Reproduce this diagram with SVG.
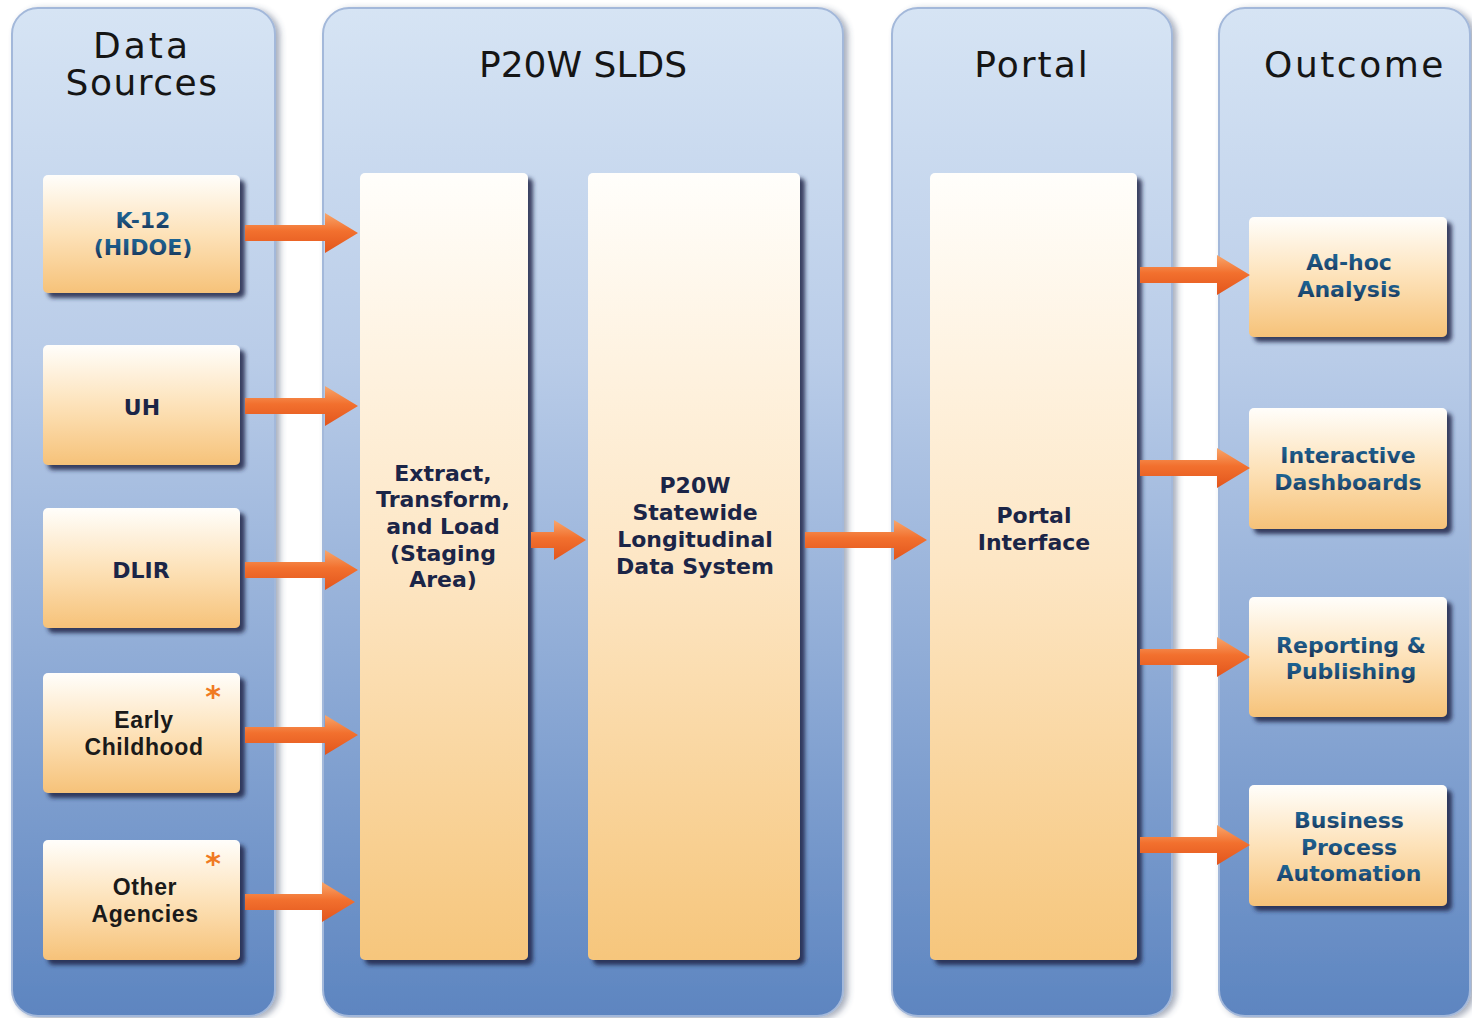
<svg xmlns="http://www.w3.org/2000/svg" width="1472" height="1018" viewBox="0 0 1472 1018">
<defs>
<linearGradient id="panelG" x1="0" y1="0" x2="0" y2="1">
<stop offset="0" stop-color="#d6e4f4"/>
<stop offset="0.35" stop-color="#b9cce8"/>
<stop offset="0.7" stop-color="#88a6d3"/>
<stop offset="1" stop-color="#5d85c0"/>
</linearGradient>
<linearGradient id="boxG" x1="0" y1="0" x2="0" y2="1">
<stop offset="0" stop-color="#fffefb"/>
<stop offset="0.5" stop-color="#fde2b9"/>
<stop offset="1" stop-color="#f6c279"/>
</linearGradient>
<linearGradient id="tallG" x1="0" y1="0" x2="0" y2="1">
<stop offset="0" stop-color="#fffefb"/>
<stop offset="0.5" stop-color="#fde6c4"/>
<stop offset="1" stop-color="#f6c67c"/>
</linearGradient>
<linearGradient id="arrowG" x1="0" y1="0" x2="0" y2="1">
<stop offset="0" stop-color="#f8a66b"/>
<stop offset="0.45" stop-color="#f2702e"/>
<stop offset="1" stop-color="#e2551c"/>
</linearGradient>
<linearGradient id="txtBlue" x1="0" y1="0" x2="0" y2="1">
<stop offset="0" stop-color="#1b6a9a"/>
<stop offset="0.5" stop-color="#1d5582"/>
<stop offset="1" stop-color="#172b4a"/>
</linearGradient>
<filter id="boxShadow" x="-10%" y="-10%" width="125%" height="125%">
<feDropShadow dx="5" dy="5" stdDeviation="2" flood-color="#1b2848" flood-opacity="0.85"/>
</filter>
<filter id="panelShadow" x="-5%" y="-5%" width="112%" height="110%">
<feDropShadow dx="4" dy="2" stdDeviation="3" flood-color="#3a4a6a" flood-opacity="0.45"/>
</filter>
</defs>
<style>
.panel{fill:url(#panelG);stroke:#a3b8da;stroke-width:2;filter:url(#panelShadow)}
.box{fill:url(#boxG);filter:url(#boxShadow)}
.tall{fill:url(#tallG);filter:url(#boxShadow)}
.title{font-family:"DejaVu Sans",sans-serif;font-size:36px;fill:#151515;text-anchor:middle}
.lbl{font-family:"DejaVu Sans",sans-serif;font-weight:bold;font-size:22px;text-anchor:middle}
.dark{fill:#1b2547}
.blue{fill:url(#txtBlue)}
.cal{font-family:"Liberation Sans",sans-serif;font-weight:bold;font-size:23px;letter-spacing:0.6px;fill:#1a1a1a;text-anchor:middle}
.ast{font-family:"DejaVu Sans",sans-serif;font-weight:bold;font-size:30px;fill:#f07a22;text-anchor:middle}
.arrow{fill:url(#arrowG)}
</style>
<rect width="1472" height="1018" fill="#ffffff"/>

<g id="panel-data-sources">
<rect class="panel" x="12" y="8" width="263" height="1008" rx="26"/>
<text class="title" x="142" y="58" letter-spacing="3">Data</text>
<text class="title" x="142" y="95" letter-spacing="1.5">Sources</text>
</g>
<g id="panel-p20w-slds">
<rect class="panel" x="323" y="8" width="520" height="1008" rx="26"/>
<text class="title" x="583" y="77">P20W SLDS</text>
</g>
<g id="panel-portal">
<rect class="panel" x="892" y="8" width="280" height="1008" rx="26"/>
<text class="title" x="1032" y="77" letter-spacing="2">Portal</text>
</g>
<g id="panel-outcome">
<rect class="panel" x="1219" y="8" width="251" height="1008" rx="26"/>
<text class="title" x="1355" y="77" letter-spacing="2.5">Outcome</text>
</g>

<g id="node-k12">
<rect class="box" x="43" y="175" width="197" height="118" rx="5"/>
<text class="lbl blue" x="143" y="228">K-12</text>
<text class="lbl blue" x="143" y="255">(HIDOE)</text>
</g>
<g id="node-uh">
<rect class="box" x="43" y="345" width="197" height="120" rx="5"/>
<text class="lbl dark" x="142" y="415">UH</text>
</g>
<g id="node-dlir">
<rect class="box" x="43" y="508" width="197" height="120" rx="5"/>
<text class="lbl dark" x="141" y="578">DLIR</text>
</g>
<g id="node-early-childhood">
<rect class="box" x="43" y="673" width="197" height="120" rx="5"/>
<text class="ast" x="213" y="707">*</text>
<text class="cal" x="144" y="728">Early</text>
<text class="cal" x="144" y="755">Childhood</text>
</g>
<g id="node-other-agencies">
<rect class="box" x="43" y="840" width="197" height="120" rx="5"/>
<text class="ast" x="213" y="874">*</text>
<text class="cal" x="145" y="895">Other</text>
<text class="cal" x="145" y="922">Agencies</text>
</g>

<g id="node-etl">
<rect class="tall" x="360" y="173" width="168" height="787" rx="5"/>
<text class="lbl dark" x="443" y="481">Extract,</text>
<text class="lbl dark" x="443" y="507">Transform,</text>
<text class="lbl dark" x="443" y="534">and Load</text>
<text class="lbl dark" x="443" y="561">(Staging</text>
<text class="lbl dark" x="443" y="587">Area)</text>
</g>
<g id="node-slds">
<rect class="tall" x="588" y="173" width="212" height="787" rx="5"/>
<text class="lbl dark" x="695" y="493">P20W</text>
<text class="lbl dark" x="695" y="520">Statewide</text>
<text class="lbl dark" x="695" y="547">Longitudinal</text>
<text class="lbl dark" x="695" y="574">Data System</text>
</g>
<g id="node-portal-interface">
<rect class="tall" x="930" y="173" width="207" height="787" rx="5"/>
<text class="lbl dark" x="1034" y="523">Portal</text>
<text class="lbl dark" x="1034" y="550">Interface</text>
</g>

<g id="node-adhoc">
<rect class="box" x="1249" y="217" width="198" height="120" rx="5"/>
<text class="lbl blue" x="1349" y="270">Ad-hoc</text>
<text class="lbl blue" x="1349" y="297">Analysis</text>
</g>
<g id="node-dashboards">
<rect class="box" x="1249" y="408" width="198" height="121" rx="5"/>
<text class="lbl blue" x="1348" y="463">Interactive</text>
<text class="lbl blue" x="1348" y="490">Dashboards</text>
</g>
<g id="node-reporting">
<rect class="box" x="1249" y="597" width="198" height="120" rx="5"/>
<text class="lbl blue" x="1351" y="653">Reporting &amp;</text>
<text class="lbl blue" x="1351" y="679">Publishing</text>
</g>
<g id="node-bpa">
<rect class="box" x="1249" y="785" width="198" height="121" rx="5"/>
<text class="lbl blue" x="1349" y="828">Business</text>
<text class="lbl blue" x="1349" y="855">Process</text>
<text class="lbl blue" x="1349" y="881">Automation</text>
</g>

<g id="connectors">
<polygon class="arrow" points="245,225 325,225 325,213 358,233 325,253 325,241 245,241"/>
<polygon class="arrow" points="245,398 325,398 325,386 358,406 325,426 325,414 245,414"/>
<polygon class="arrow" points="245,562 325,562 325,550 358,570 325,590 325,578 245,578"/>
<polygon class="arrow" points="245,727 325,727 325,715 358,735 325,755 325,743 245,743"/>
<polygon class="arrow" points="245,894 322,894 322,882 355,902 322,922 322,910 245,910"/>
<polygon class="arrow" points="531,532 554,532 554,520 586,540 554,560 554,548 531,548"/>
<polygon class="arrow" points="805,532 894,532 894,520 927,540 894,560 894,548 805,548"/>
<polygon class="arrow" points="1140,267 1217,267 1217,255 1250,275 1217,295 1217,283 1140,283"/>
<polygon class="arrow" points="1140,460 1217,460 1217,448 1250,468 1217,488 1217,476 1140,476"/>
<polygon class="arrow" points="1140,649 1217,649 1217,637 1250,657 1217,677 1217,665 1140,665"/>
<polygon class="arrow" points="1140,837 1217,837 1217,825 1250,845 1217,865 1217,853 1140,853"/>
</g>
</svg>
